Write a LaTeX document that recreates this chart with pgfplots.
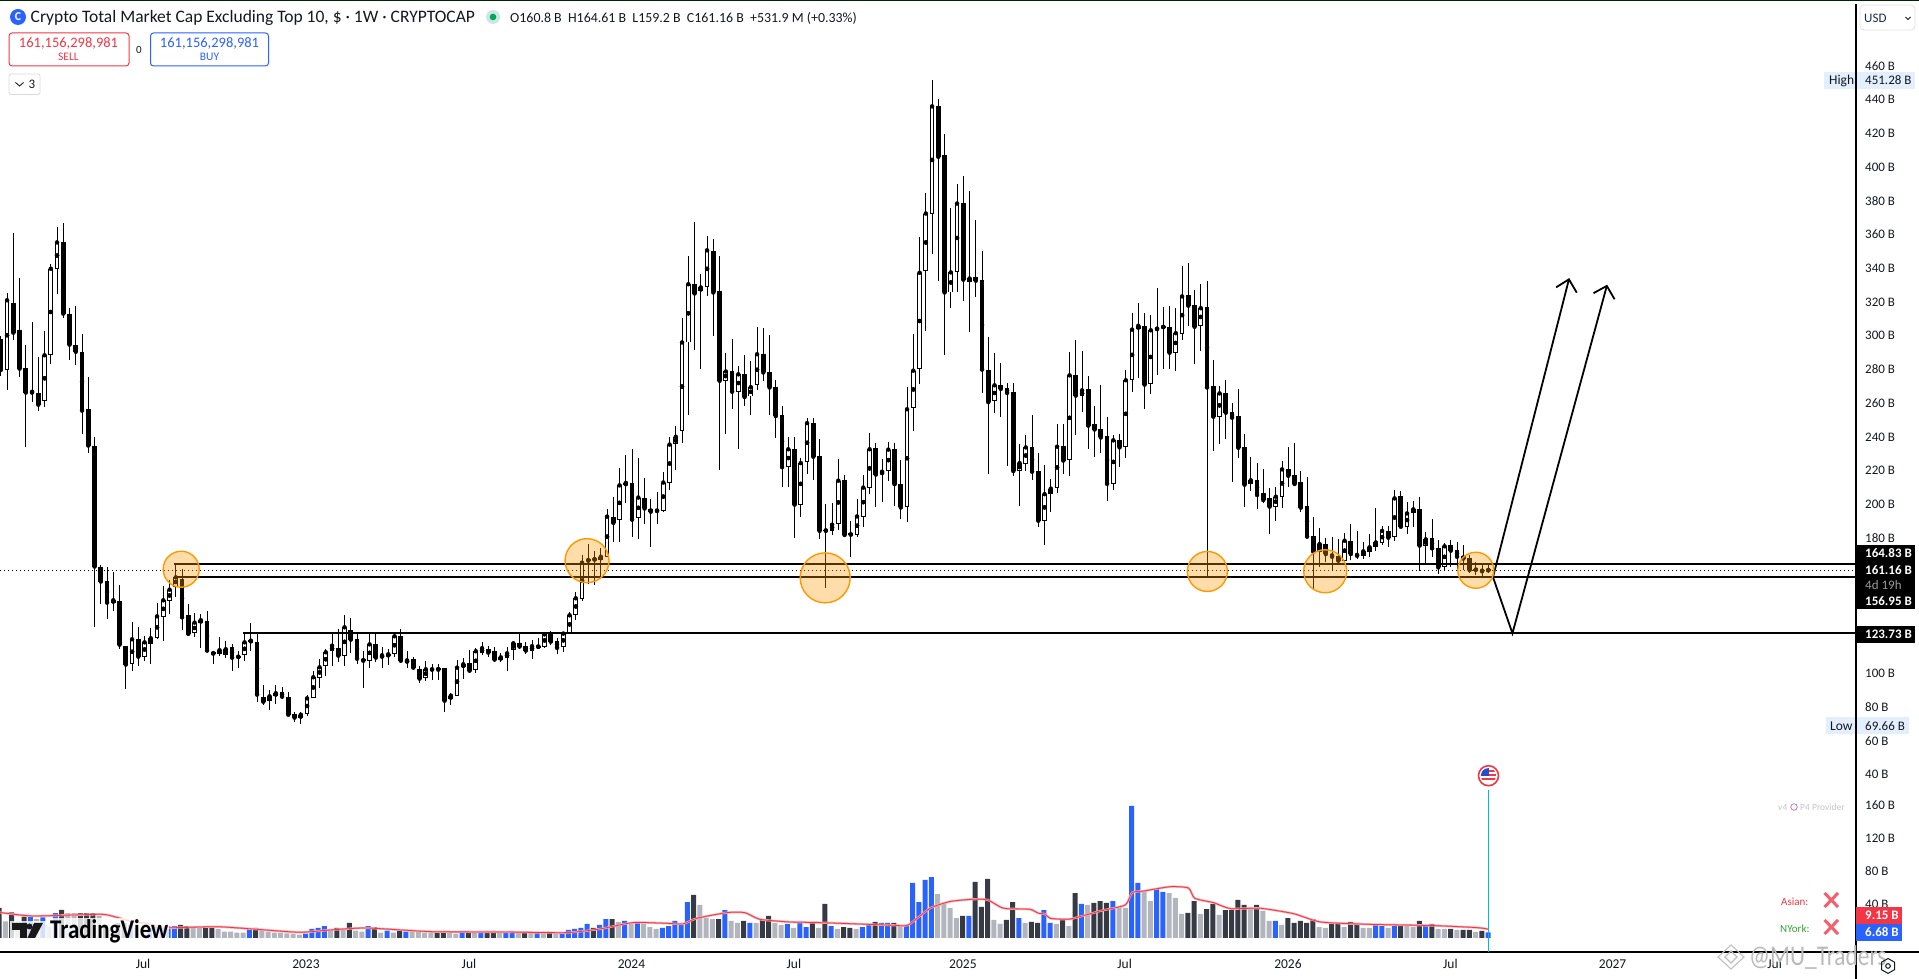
\documentclass[border=0pt]{standalone}
\usepackage{graphicx}
\usepackage{pgfplots}
\usepackage{pgfplotstable}
\usepackage{fontspec}
\pgfplotsset{compat=1.18}
\setmainfont{Carlito}
\definecolor{tvred}{HTML}{F23645}
\definecolor{tvblue}{HTML}{2962FF}
\definecolor{tvdark}{HTML}{363A45}
\definecolor{tvgray}{HTML}{B2B5BE}
\definecolor{tvorange}{HTML}{FF9800}
\definecolor{tvpale}{HTML}{E3EFFD}
\definecolor{tvtext}{HTML}{131722}
\definecolor{tvcyan}{HTML}{00BCD4}
\newcommand{\fs}[1]{\fontsize{#1}{#1}\selectfont}
\pgfplotstableread{
i O H L C V c
0 297.9 300 276 279.7 36.4 2
1 279.5 325.1 267.8 321 20 3
2 319.2 360.7 297.5 301.8 31 2
3 303.2 334 275.7 280.5 20 3
4 280.7 294.5 234.3 266.3 26 2
5 267.2 308.1 260.9 266.3 26 1
6 265.9 287.4 255.6 259.1 23 3
7 261.1 302.8 258 288.4 25 1
8 288.4 342.3 283.2 339.7 14 3
9 339.7 364.2 324.7 355.3 30 1
10 355.3 366.6 310.7 313.1 34 2
11 312.7 316.2 285.6 294.7 30 3
12 294.3 317.4 282.6 290.5 30 3
13 290.2 300.8 241.8 255.6 30 2
14 256.4 275.3 230.7 234.9 30 2
15 234.5 240.2 127.6 163.2 30 2
16 162.8 164 141 154.3 26.7 3
17 154.5 162.8 132.3 141.8 16 2
18 141.8 160 136.9 143.2 14 3
19 142.8 152.1 114.4 116.9 18 2
20 115.9 116 90.7 105.1 18 2
21 105.3 130.2 101.5 120.1 16 1
22 120.3 127.2 104.5 109.8 12 3
23 109.8 122 107.4 118.3 12 3
24 117.5 126.8 105.7 120.7 12 1
25 120.7 141.4 120.3 133.7 14 1
26 133.1 151.7 119.3 143.2 15 1
27 142.6 155 135.1 149.5 14 1
28 151.3 164.7 145.4 156.8 14.5 1
29 155.6 161.6 125.6 133.1 15.8 2
30 134.3 140.8 122.8 123.3 14.5 2
31 123.6 135.5 121.7 130 13.7 3
32 130 134.9 115.2 131.4 13.7 3
33 130.8 136.9 113.2 113.4 14.5 2
34 112.2 112.5 105.7 111.6 14.5 2
35 111.6 121.3 110.4 113.6 10.9 3
36 111 119.1 109.2 114.2 7.7 3
37 115.4 117.3 101.5 109.2 7.7 3
38 110 113 103.1 109.6 6.5 3
39 110.6 123.3 107.4 118.3 6.5 3
40 118.5 129.6 113.2 119.3 10.9 1
41 118.3 123.3 83.1 87.3 12.1 2
42 85.9 92.8 81 83.1 9.7 3
43 83.7 90.3 78.2 86.3 7.7 3
44 86.7 93 81.8 88.1 6.5 3
45 88.7 91.6 84.5 86.1 6.5 3
46 85.9 88.7 74.6 75.4 5.7 3
47 75.6 77.2 71.3 73.7 5.3 3
48 73.3 76.8 69.7 75.4 4 3
49 76 87.1 74.8 85.1 5.3 1
50 85.5 101.3 85.1 97.6 10.9 1
51 97.4 108.2 91.4 103.5 12.1 1
52 104.1 114.2 98.6 112.4 14.5 1
53 113 124.2 104.1 116.3 10.9 3
54 114.8 126.2 106.5 110.4 12.1 2
55 110 134.3 104.5 127.2 10.9 3
56 125.4 132.5 112 119.9 18.2 2
57 120.1 123.3 105.3 108.6 8.9 3
58 108.2 113.4 91.4 107.4 7.7 3
59 107 123.3 103.1 117.1 14.5 1
60 117.1 123 106.5 109.2 13.3 2
61 109.2 115.4 103.3 110.6 6.5 3
62 110 114.4 104.7 111.2 8.9 1
63 111.2 123.3 109.4 121.9 6.5 3
64 122.1 126.2 106 107.4 10.1 2
65 106.3 113 102.9 107.6 7.7 1
66 108.2 109.4 102.5 103.3 7.7 3
67 102.7 104 94.4 96.8 7.7 3
68 97.2 107.4 95.6 102.3 6.5 3
69 102.5 105.3 96 102.1 6.5 3
70 102.9 105.3 96 102.1 7.7 2
71 102.9 103 77.2 83.7 7.7 2
72 84.5 88.1 81.2 86.7 6.5 3
73 86.7 107.8 86.3 103.3 5.3 3
74 103.5 108.8 96.4 105.3 8.5 1
75 106.1 113.8 100 101.5 8.5 2
76 101.7 114.8 100 113 7.7 3
77 112.2 118.3 110.6 114.8 8.5 1
78 114.2 116.1 109.4 112.2 8.5 2
79 113 115.4 106.9 108.1 8.5 2
80 108.1 112.2 106.5 109.4 7.3 3
81 109.2 115.8 101.3 111.8 7.3 1
82 113.9 119.1 107.8 117.7 8.5 1
83 117.9 124.2 114.2 115.8 8.5 3
84 116 118.7 111.4 113.4 7.3 2
85 113.4 119.7 108.4 116 7.3 3
86 115.6 120.7 114.8 115.8 6.1 1
87 115.8 124 115.2 123 6.1 3
88 123 125 116.7 118.7 7.3 2
89 119.1 120.7 111.6 115 6.1 3
90 115.4 124.6 112.8 123.5 6.5 1
91 123.5 136.1 123.3 134.3 9.7 1
92 134.7 148.3 131.5 144.4 10.9 1
93 144.2 170.1 143 165.5 12.1 1
94 167.5 176.4 152.7 166.7 17 1
95 167.3 172.4 152.3 167.5 12.1 2
96 167.3 174 156 169 15.8 1
97 169 197.3 169 192.8 23 1
98 192.3 204.4 177.7 189.1 23 2
99 190.6 221.5 177.7 211.3 19.4 3
100 211.3 229.3 201 212.8 20.6 1
101 213 232.7 180.9 191 17 3
102 191.9 227.4 179.8 204.1 19.4 1
103 204.1 215.4 188.3 197.6 17 3
104 197.2 203 174.5 195.7 13.3 3
105 196.7 207.3 188.7 196.1 10.9 3
106 196.3 219 195.7 213 12.1 1
107 213 240 208.8 235.5 14.5 1
108 235.7 246.5 220.6 240.1 20.6 1
109 243.7 310.6 236.5 296 18.2 1
110 296 347 252.8 330.5 43.6 1
111 330.5 367.1 291.8 325 52.1 2
112 326.3 336.4 280 328.6 40 3
113 328.6 359.1 323.7 350.6 24.2 3
114 350 357.2 300 325.6 23 3
115 326.3 347 220.6 273.3 23 2
116 273.3 289.9 241.8 278.8 33.9 1
117 278.8 297.9 256.6 266.8 20.6 3
118 266.8 282 233.1 277.1 18.2 3
119 277.1 288.8 258.1 263.6 20.6 2
120 264 285 253.2 269.5 18.2 1
121 270.6 305.1 267.6 289 18.2 3
122 289 304.7 273 278.2 23 2
123 278.2 300.4 253.2 269.3 26.7 2
124 269.3 273.6 239.1 252.4 18.2 3
125 252.8 258.5 210.1 222.1 15.8 3
126 222.3 239.9 210.5 232.7 17 1
127 232.7 239.9 180.2 199.9 12.1 3
128 199.9 227.4 192.5 224.5 20.6 1
129 224.9 251.1 218.3 248.2 13.3 1
130 248.2 251.1 214.7 228.3 18.2 2
131 228.5 238.6 179.8 184.4 12.1 3
132 184.9 200.3 150.6 184.4 41.2 2
133 184.4 200.9 181.9 188 14.5 1
134 188.3 226.8 185.1 214.1 10.9 3
135 214.3 217.5 180.9 181.9 13.3 2
136 182.5 190 169 182.1 12.1 2
137 181.9 203.5 180.9 192.9 10.9 3
138 192.7 217.3 186.6 210 13.3 1
139 210 242.4 206.3 232.7 17 1
140 233.3 236.5 198.2 217.7 19.4 2
141 217.9 226.8 201.4 219.4 18.2 1
142 220 236.9 213.7 232.5 18.2 1
143 232.7 236.5 198.8 212 18.2 2
144 212 226.4 191.4 198.2 15.8 3
145 198.4 269.5 189.3 256.4 15.8 1
146 257 300.9 243.7 279.3 66.7 1
147 280.1 358.2 271.2 337.3 43.6 1
148 338.1 384.5 302.5 372.4 70.3 1
149 372.4 451.3 348.7 435.9 73.9 1
150 435.9 440.1 332.2 406 53.3 3
151 406.9 419.6 288.8 325.6 42.4 3
152 325.6 375.6 316.7 337.5 36.4 3
153 337.5 389.7 325.8 378.3 24.2 3
154 378.7 394.6 320.5 333.2 26.7 2
155 332 385.5 301.9 333.9 26.7 1
156 334.7 368.6 322.7 332.6 67.9 2
157 332.8 350.2 266.1 279.9 37.6 2
158 279.7 299 218.3 260.6 71.5 2
159 261.5 289.9 254.3 270.6 21.8 3
160 270.6 284.1 251.8 268.5 17 3
161 268.9 271.9 222.8 266.1 21.8 2
162 266.6 271.9 216.8 219.8 43.6 2
163 219.8 235.9 199.3 224.5 24.2 1
164 224.2 241.2 220 233.8 18.2 3
165 233.8 252.8 214.7 219.4 19.4 2
166 219.6 230.2 186.6 190.4 18.2 2
167 190.4 223.2 176.2 206.1 33.9 1
168 206.1 214.9 195.7 209.4 18.2 1
169 209.7 247.5 206.9 234.2 17 3
170 234.4 247.5 218 226 21.8 2
171 226.2 290.3 216.8 276.5 14.5 3
172 276.5 297.3 241.2 264.5 54.5 2
173 264.1 290.9 255 267.6 41.2 1
174 268.3 276.1 232.7 246.7 40 3
175 247.5 258.1 228 244.4 42.4 2
176 244.6 270.8 230.6 239.7 44.8 2
177 240.5 251.8 202 212.2 42.4 2
178 212.4 241.2 208.8 238 44.8 1
179 238 242 222.1 233.8 38.8 3
180 233.8 279.7 227.8 273.6 36.4 3
181 273.6 313.6 266.6 303.6 160 1
182 303.8 319.5 275 305.9 66.7 1
183 305.9 313.6 256.6 271 57 3
184 271.6 312.1 265.5 303.2 44.8 3
185 304.5 328 277 303.9 59.4 1
186 305 316.9 280.3 305.2 55.8 1
187 305.1 317.4 280.3 289.9 54.5 3
188 289.9 316.3 279.3 301.5 48.5 3
189 301.1 341.1 297.3 323.3 29.1 3
190 323.9 343.2 305.7 317.8 30.3 2
191 318.4 326.9 283.5 305.3 44.8 2
192 305.9 330.5 290.9 316.3 29.1 3
193 316.9 332.2 157 269.3 35.1 2
194 270.2 285.6 231.9 252 41.2 2
195 251.6 270 235.8 265.8 27.9 3
196 265.8 273.7 239 254.4 33.9 2
197 254.6 260 213.5 251.4 33.9 2
198 252.4 268.4 227.3 233.6 46.1 2
199 233.8 242 198.7 211.7 40 2
200 212.3 228.3 208.2 214.3 36.4 3
201 214.3 224.4 197.1 205.6 40 2
202 206.6 220.8 200.6 202.6 32.7 3
203 203.6 209.5 182.5 198.7 20.6 3
204 198.7 210.5 190.4 204.6 20.6 1
205 204.2 225.7 197.7 220.8 15.8 3
206 220.8 234.2 210.5 217 24.2 2
207 217.2 236.6 210.9 212.1 18.2 2
208 213.1 220 195.7 198.1 20.6 2
209 199.3 216 180 180.9 18.2 2
210 181.3 192.4 149.3 172 23 2
211 172 185.8 162.7 176.5 13.3 3
212 176.5 179.9 166.1 170.6 12.1 3
213 170.6 180.9 160.7 169 17 2
214 169.4 179.5 164.1 166.7 18.2 2
215 166.7 182.9 166 178.5 13.3 3
216 178.1 188.2 167.1 170.6 19.4 2
217 170.6 184.3 167.5 169.6 18.2 2
218 169.6 178 167.5 172.2 12.1 3
219 172 182.5 169 174.6 12.1 3
220 174.6 197.9 172.6 177.5 15.8 1
221 177 187.2 176 184.3 14.5 1
222 184.3 187.2 175 180.3 12.1 3
223 180.9 208.6 178.5 203.6 14.5 1
224 204.8 208 185.8 186.8 15.8 2
225 186.8 201.6 182.5 194.7 14.5 3
226 195.1 202 186.8 197.1 13.3 3
227 197.1 204.4 160.7 175.6 20.6 2
228 175.6 183.9 164.7 179.3 14.5 1
229 179.9 191.4 169 174 17 2
230 174.2 178.9 158.6 162.7 10.9 3
231 162.7 177.3 160.7 175.2 10.9 3
232 176 178.9 162.7 172.6 10.9 2
233 172.8 178 162 169 9.7 3
234 169.2 176 161.1 167.9 9.7 2
235 168.3 170 159.2 161.1 9.7 2
236 161.5 166 158.2 161.3 7.3 3
237 161.1 164 157.6 160.4 8.5 2
238 160.8 164.61 159.2 161.16 6.68 1
}\candles
\begin{document}
\begin{tikzpicture}
\useasboundingbox (0,0) rectangle (1919pt,979pt);
% ---------- price pane ----------
\begin{axis}[
  at={(0pt,190pt)}, anchor=south west, scale only axis,
  width=1856pt, height=785pt,
  xmin=-0.128, xmax=296.83, ymin=31.38, ymax=496.56,
  axis x line=none, axis y line=right,
  axis line style={-,black,line width=1.1pt},
  major tick length=0pt,
  ytick={40,60,80,100,180,200,220,240,260,280,300,320,340,360,380,400,420,440,460},
  yticklabels={40 B,60 B,80 B,100 B,180 B,200 B,220 B,240 B,260 B,280 B,300 B,320 B,340 B,360 B,380 B,400 B,420 B,440 B,460 B},
  yticklabel style={font=\fs{13},text=tvtext,anchor=west,inner sep=0pt,xshift=9pt},
]
\addplot[only marks,mark=none,forget plot,error bars/.cd,y dir=both,y explicit,error mark=none,
  error bar style={draw=black,line width=1pt}]
  table[x=i,y=C,y error plus expr=\thisrow{H}-\thisrow{C},y error minus expr=\thisrow{C}-\thisrow{L}] {\candles};
\addplot[only marks,mark=none,forget plot,error bars/.cd,y dir=both,y explicit,error mark=none,
  error bar style={draw=black,line width=4.7pt}]
  table[x=i,y expr=(\thisrow{O}+\thisrow{C})/2,y error expr={max(abs(\thisrow{C}-\thisrow{O})/2,0.5)}] {\candles};
\addplot[only marks,mark=none,forget plot,restrict expr to domain={\thisrow{C}-\thisrow{O}}{0:1000},
  error bars/.cd,y dir=both,y explicit,error mark=none,
  error bar style={draw=white,line width=2.8pt}]
  table[x=i,y expr=(\thisrow{O}+\thisrow{C})/2,y error expr={max(abs(\thisrow{C}-\thisrow{O})/2-0.55,0)}] {\candles};
% horizontal levels
\addplot[black,line width=2pt,forget plot] coordinates {(27.76,164.83) (296.83,164.83)};
\addplot[black,line width=2pt,forget plot] coordinates {(27.76,156.95) (296.83,156.95)};
\addplot[black,line width=2pt,forget plot] coordinates {(38.75,123.73) (296.83,123.73)};
\addplot[black,line width=0.9pt,dash pattern=on 1pt off 3pt,forget plot] coordinates {(-0.128,161.16) (296.83,161.16)};
% circles
\addplot[only marks,forget plot,mark=*,mark size=18pt,mark options={draw=tvorange,line width=1.4pt,fill=tvorange,fill opacity=.33}] coordinates {(28.86,161.6)};
\addplot[only marks,forget plot,mark=*,mark size=22pt,mark options={draw=tvorange,line width=1.4pt,fill=tvorange,fill opacity=.33}] coordinates {(93.8,166.7)};
\addplot[only marks,forget plot,mark=*,mark size=25pt,mark options={draw=tvorange,line width=1.4pt,fill=tvorange,fill opacity=.33}] coordinates {(131.9,156.5)};
\addplot[only marks,forget plot,mark=*,mark size=20pt,mark options={draw=tvorange,line width=1.4pt,fill=tvorange,fill opacity=.33}] coordinates {(193.05,160.3)};
\addplot[only marks,forget plot,mark=*,mark size=21.5pt,mark options={draw=tvorange,line width=1.4pt,fill=tvorange,fill opacity=.33}] coordinates {(211.9,160.4)};
\addplot[only marks,forget plot,mark=*,mark size=18pt,mark options={draw=tvorange,line width=1.4pt,fill=tvorange,fill opacity=.33}] coordinates {(236,161)};
% projected path
\addplot[black,line width=1.8pt,forget plot] coordinates {(250.9,333.4) (238.75,156.95) (241.86,123.6) (256.96,329.5)};
\addplot[black,line width=1.8pt,forget plot] coordinates {(248.85,328.66) (250.9,333.4) (252.15,325.5)};
\addplot[black,line width=1.8pt,forget plot] coordinates {(254.83,325.2) (256.96,329.5) (258.2,321.6)};
\end{axis}
% ---------- volume pane ----------
\begin{axis}[
  at={(0pt,27pt)}, anchor=south west, scale only axis,
  width=1856pt, height=163pt,
  xmin=0.144, xmax=296.8, ymin=-17, ymax=180.6,
  axis x line=bottom, axis y line=right,
  axis line style={-,black,line width=1.1pt},
  major tick length=0pt,
  ytick={40,80,120,160}, yticklabels={40 B,80 B,120 B,160 B},
  yticklabel style={font=\fs{13},text=tvtext,anchor=west,inner sep=0pt,xshift=9pt,yshift=1pt},
  xtick={23,49.05,75.1,101.07,127.04,154.05,179.9,206,231.96,257.9,283.8},
  xticklabels={Jul,2023,Jul,2024,Jul,2025,Jul,2026,Jul,2027,Jul},
  xticklabel style={font=\fs{13.5},text=tvtext,anchor=center,inner sep=0pt,yshift=-12pt},
  ybar, bar width=5pt,
]
\addplot[bar shift=0pt,fill=tvgray,draw=none,forget plot,restrict expr to domain={\thisrow{c}}{2.5:3.5}] table[x=i,y=V] {\candles};
\addplot[bar shift=0pt,fill=tvdark,draw=none,forget plot,restrict expr to domain={\thisrow{c}}{1.5:2.5}] table[x=i,y=V] {\candles};
\addplot[bar shift=0pt,fill=tvblue,draw=none,forget plot,restrict expr to domain={\thisrow{c}}{0.5:1.5}] table[x=i,y=V] {\candles};
\addplot[smooth,tension=0.35,tvred!45,line width=2.2pt,forget plot] coordinates {
(0,31.1)(5.3,26.7)(16,28.7)(18,26.7)(21.3,19.8)(23.5,17.8)(27,12.5)(34.7,13.7)(40.5,10.9)(48,6.9)(53,9.7)(58.7,12.1)(69,7.7)(80,7.3)(90.7,6.5)(96,10.9)(101.3,18.6)(106.7,17.8)(109.3,17)(111.5,23.8)(116.3,30.7)(119.2,30.7)(121.6,22.6)(126.4,19.4)(131.2,18.6)(138.7,16.6)(143,15.4)(145.3,15.8)(148.8,36)(152,44.2)(155.7,47)(158,46.2)(160,37.6)(161,35.6)(164.8,34.7)(166.1,30)(167.2,29.1)(168,23.8)(171.2,23)(176,32.7)(180,40)(181.1,55)(183,57)(187.2,62.2)(190.1,60.6)(191.1,48.1)(194.1,42.8)(196.8,35.6)(201.6,36)(206.9,29.5)(211.2,19.4)(218.7,16.6)(229.3,15)(236.3,12.5)(238.1,10.5)};
\addplot[smooth,tension=0.35,tvred,line width=0.8pt,forget plot] coordinates {
(0,31.1)(5.3,26.7)(16,28.7)(18,26.7)(21.3,19.8)(23.5,17.8)(27,12.5)(34.7,13.7)(40.5,10.9)(48,6.9)(53,9.7)(58.7,12.1)(69,7.7)(80,7.3)(90.7,6.5)(96,10.9)(101.3,18.6)(106.7,17.8)(109.3,17)(111.5,23.8)(116.3,30.7)(119.2,30.7)(121.6,22.6)(126.4,19.4)(131.2,18.6)(138.7,16.6)(143,15.4)(145.3,15.8)(148.8,36)(152,44.2)(155.7,47)(158,46.2)(160,37.6)(161,35.6)(164.8,34.7)(166.1,30)(167.2,29.1)(168,23.8)(171.2,23)(176,32.7)(180,40)(181.1,55)(183,57)(187.2,62.2)(190.1,60.6)(191.1,48.1)(194.1,42.8)(196.8,35.6)(201.6,36)(206.9,29.5)(211.2,19.4)(218.7,16.6)(229.3,15)(236.3,12.5)(238.1,10.5)};
\end{axis}
% ---------- overlay, in pixel coordinates of the screenshot ----------
\begin{scope}[x=1pt,y=-1pt,shift={(0pt,979pt)}]
\draw[black,line width=1.1pt] (1856,952) -- (1919,952);
\draw[black,line width=1.1pt] (1856,952) -- (1856,979);
\fill[black!85!green] (0,0) rectangle (1919,1.4);
% header
\fill[tvblue] (18,17) circle (8);
\node[text=white,font=\bfseries\fs{12}] at (18,16.5) {C};
\node[anchor=west,inner sep=0pt,text=tvtext,font=\fs{17.5}] at (30.5,18) {Crypto Total Market Cap Excluding Top 10, \$ · 1W · CRYPTOCAP};
\fill[teal!20] (493,17) circle (7);
\fill[teal!70!green] (493,17) circle (3.3);
\node[anchor=west,inner sep=0pt,text=tvtext,font=\fs{13.9}] at (510,18) {O160.8 B\ \ H164.61 B\ \ L159.2 B\ \ C161.16 B\ \ +531.9 M (+0.33\%)};
\draw[tvred,line width=1pt,rounded corners=3pt,fill=white] (9,33) rectangle (129,66);
\node[text=tvred,font=\fs{14.5}] at (68.5,43) {161,156,298,981};
\node[text=tvred,font=\fs{11.5}] at (68.5,57) {SELL};
\node[text=tvtext,font=\fs{11}] at (139,50) {0};
\draw[tvblue,line width=1pt,rounded corners=3pt,fill=white] (150.5,33) rectangle (268.5,66);
\node[text=tvblue,font=\fs{14.5}] at (209.5,43) {161,156,298,981};
\node[text=tvblue,font=\fs{11.5}] at (209.5,57) {BUY};
\draw[black!15,line width=0.8pt,rounded corners=2pt] (9,74) rectangle (40,94.5);
\draw[tvtext,line width=0.9pt] (15.5,82.5) -- (19.5,86) -- (23.5,82.5);
\node[text=tvtext,font=\fs{13}] at (32,84.5) {3};
\draw[black!12,line width=0.8pt,rounded corners=4pt] (1860,5) rectangle (1915,30);
\node[anchor=west,inner sep=0pt,text=tvblue!25!tvtext,font=\fs{13}] at (1864,18) {USD};
\draw[tvtext,line width=0.8pt] (1905.5,17) -- (1908,19.5) -- (1910.5,17);
% High / Low
\fill[tvpale] (1824,72) rectangle (1915,88.7);
\draw[black,line width=1.1pt] (1856,72) -- (1856,88.7);
\node[anchor=west,inner sep=0pt,text=tvtext,font=\fs{13.5}] at (1829,80.5) {High};
\node[anchor=west,inner sep=0pt,text=tvtext,font=\fs{13}] at (1865,80.5) {451.28 B};
\fill[tvpale] (1826,717) rectangle (1909,734);
\draw[black,line width=1.1pt] (1856,717) -- (1856,734);
\node[anchor=west,inner sep=0pt,text=tvtext,font=\fs{13.5}] at (1830,726) {Low};
\node[anchor=west,inner sep=0pt,text=tvtext,font=\fs{13}] at (1865,726) {69.66 B};
% price boxes
\fill[black] (1856,545) rectangle (1915,609);
\node[anchor=west,inner sep=0pt,text=white,font=\bfseries\fs{13}] at (1865,553.5) {164.83 B};
\node[anchor=west,inner sep=0pt,text=white,font=\bfseries\fs{13}] at (1865,570.5) {161.16 B};
\node[anchor=west,inner sep=0pt,text=black!40,font=\fs{13}] at (1865,585.5) {4d 19h};
\node[anchor=west,inner sep=0pt,text=white,font=\bfseries\fs{13}] at (1865,601) {156.95 B};
\fill[black] (1856,626) rectangle (1915,642.7);
\node[anchor=west,inner sep=0pt,text=white,font=\bfseries\fs{13}] at (1865,634.5) {123.73 B};
\fill[tvred] (1856,907) rectangle (1902,924);
\node[anchor=west,inner sep=0pt,text=white,font=\bfseries\fs{13}] at (1865,915.5) {9.15 B};
\fill[tvblue] (1856,924) rectangle (1902,941);
\node[anchor=west,inner sep=0pt,text=white,font=\bfseries\fs{13}] at (1865,932.5) {6.68 B};
% event marker
\draw[tvcyan,line width=1pt] (1488.5,790) -- (1488.5,952);
\draw[tvred,line width=1.6pt,fill=white] (1488.5,775.7) circle (10);
\begin{scope}
\clip (1488.5,775.7) circle (7.6);
\fill[white] (1480,767) rectangle (1497,785);
\fill[tvred] (1480,770) rectangle (1497,772);
\fill[tvred] (1480,774) rectangle (1497,776);
\fill[tvred] (1480,778) rectangle (1497,780);
\fill[tvblue!80!black] (1480,767) rectangle (1489,776.5);
\end{scope}
% indicator labels
\node[anchor=west,inner sep=0pt,text=tvgray!80,font=\fs{9.5}] at (1778,807) {v4};
\draw[violet!60,line width=0.7pt] (1794,807) circle (3.3);
\node[anchor=west,inner sep=0pt,text=tvgray!80,font=\fs{9.5}] at (1800,807) {P4 Provider};
\node[anchor=west,inner sep=0pt,text=tvred,font=\fs{11}] at (1781,901.5) {Asian:};
\node[anchor=west,inner sep=0pt,text=green!55!black!80,font=\fs{11}] at (1780,928.7) {NYork:};
\draw[tvred!80,line width=3pt] (1824.5,893) -- (1838,907) (1838,893) -- (1824.5,907);
\draw[tvred!80,line width=3pt] (1824.5,920) -- (1838,934) (1838,920) -- (1824.5,934);
% TradingView mark
\node[anchor=west,fill=white,fill opacity=.8,text opacity=1,inner sep=1pt,text=black,font=\bfseries\fs{27}] at (49,931) {\scalebox{0.85}[1]{TradingView}};
\fill[white,opacity=.8] (10,921) rectangle (49,941);
\fill[black!90] (12,923) -- (27,923) -- (27,938) -- (20,938) -- (20,930) -- (12,930) -- cycle;
\fill[black!90] (29.5,926.5) circle (3);
\fill[black!90] (34,923) -- (43,923) -- (35,938) -- (27.5,938) -- cycle;
% credit watermark
\draw[black!25,line width=1.1pt] (1731,945) -- (1744,957) -- (1731,969) -- (1718,957) -- cycle;
\draw[black!25,line width=1.1pt] (1731,951) -- (1737,957) -- (1731,963) -- (1725,957) -- cycle;
\node[anchor=west,inner sep=0pt,text=black!27,font=\fs{26}] at (1749,957) {\scalebox{0.9}[1.1]{@MU\_Traders}};
% settings icon
\draw[tvtext,line width=1pt] (1888,958.5) -- (1894.5,962.2) -- (1894.5,969.7) -- (1888,973.4) -- (1881.5,969.7) -- (1881.5,962.2) -- cycle;
\draw[tvtext,line width=1pt] (1888,966) circle (2.3);
\end{scope}
\end{tikzpicture}
\end{document}
